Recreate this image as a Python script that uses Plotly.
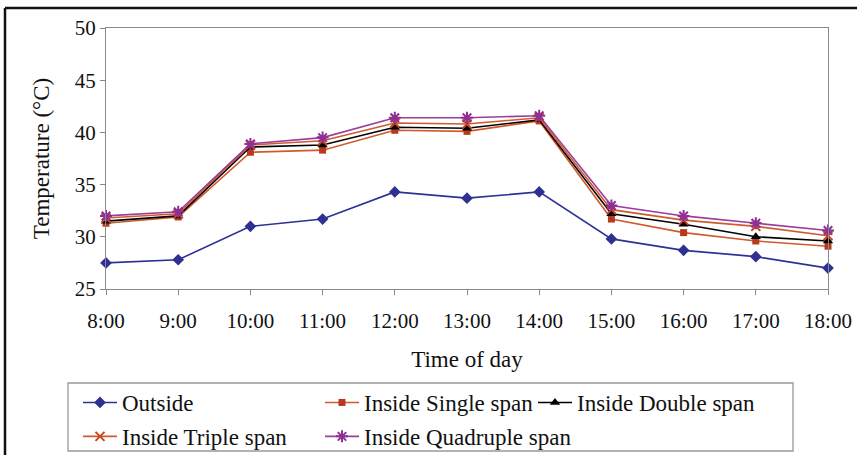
import plotly.graph_objects as go

times = ["8:00", "9:00", "10:00", "11:00", "12:00", "13:00", "14:00",
         "15:00", "16:00", "17:00", "18:00"]
outside = [27.5, 27.8, 31.0, 31.7, 34.3, 33.7, 34.3, 29.8, 28.7, 28.1, 27.0]
single = [31.3, 31.9, 38.1, 38.3, 40.2, 40.1, 41.1, 31.7, 30.4, 29.6, 29.1]
double = [31.5, 32.0, 38.6, 38.8, 40.5, 40.4, 41.2, 32.2, 31.2, 30.0, 29.6]
triple = [31.8, 32.2, 38.8, 39.2, 40.9, 40.8, 41.4, 32.6, 31.6, 31.0, 30.1]
quadruple = [32.0, 32.4, 38.9, 39.5, 41.4, 41.4, 41.6, 33.0, 32.0, 31.3, 30.6]

W, H = 857, 455
L, R, T, B = 106, 828, 28, 289
FONT = "Liberation Serif, Times New Roman, serif"


def px(x):
    return (x - L) / (R - L)


def py(y):
    return (B - y) / (B - T)


series = [
    ("Outside", outside, "#2E3192", "#2E3192", "diamond", 9, 0, "legend"),
    ("Inside Single span", single, "#D05A2E", "#B83A1C", "square", 7, 0, "legend2"),
    ("Inside Double span", double, "#000000", "#000000", "triangle-up", 9, 0, "legend3"),
    ("Inside Triple span", triple, "#D05A2E", "#C8461E", "x-thin", 9, 2, "legend"),
    ("Inside Quadruple span", quadruple, "#9B3E9B", "#8E2F93", "asterisk", 10, 2, "legend2"),
]

fig = go.Figure()
for name, vals, lc, mc, sym, ms, mlw, lg in series:
    fig.add_trace(go.Scatter(
        x=times, y=vals, name=name, mode="lines+markers",
        line=dict(color=lc, width=1.6),
        marker=dict(symbol=sym, size=ms, color=mc,
                    line=dict(color=mc, width=mlw)),
        cliponaxis=False, legend=lg, legendgroup=name,
    ))

leg_common = dict(
    orientation="v", bgcolor="rgba(0,0,0,0)", borderwidth=0,
    font=dict(family=FONT, size=23, color="#111"),
    tracegroupgap=1, itemwidth=34, xanchor="left", yanchor="top",
)

fig.update_layout(
    width=W, height=H,
    margin=dict(l=L, r=W - R, t=T, b=H - B, pad=0, autoexpand=False),
    paper_bgcolor="white", plot_bgcolor="white",
    font=dict(family=FONT, size=21, color="#111"),
    xaxis=dict(
        type="category", range=[0, len(times) - 1],
        showline=True, linecolor="#8a8a8a", linewidth=1.3, mirror=True,
        ticks="outside", ticklen=5, tickcolor="#8a8a8a",
        showgrid=False, zeroline=False,
        tickfont=dict(family=FONT, size=21, color="#111"),
        ticklabelstandoff=8,
        title=dict(text="Time of day", font=dict(family=FONT, size=23, color="#111"),
                   standoff=18),
    ),
    yaxis=dict(
        range=[25, 50], dtick=5,
        showline=True, linecolor="#8a8a8a", linewidth=1.3, mirror=True,
        ticks="outside", ticklen=5, tickcolor="#8a8a8a",
        showgrid=False, zeroline=False,
        tickfont=dict(family=FONT, size=21, color="#111"),
        title=dict(text="Temperature (°C)", font=dict(family=FONT, size=23, color="#111"),
                   standoff=18),
    ),
    legend=dict(x=px(78), y=py(381), **leg_common),
    legend2=dict(x=px(320), y=py(381), **leg_common),
    legend3=dict(x=px(533), y=py(381), **leg_common),
    shapes=[
        dict(type="rect", xref="paper", yref="paper",
             x0=px(68), x1=px(793), y0=py(451), y1=py(383),
             line=dict(color="#999999", width=1.3), fillcolor="rgba(0,0,0,0)"),
        dict(type="line", xref="paper", yref="paper",
             x0=px(5), x1=px(860), y0=py(8), y1=py(8),
             line=dict(color="#111111", width=2.5)),
        dict(type="line", xref="paper", yref="paper",
             x0=px(5), x1=px(5), y0=py(8), y1=py(460),
             line=dict(color="#111111", width=2.5)),
    ],
    showlegend=True,
)

fig.write_html(
    "out.html",
    config={"displayModeBar": False},
    post_script="document.body.style.margin='0';document.body.style.overflow='hidden';",
)
